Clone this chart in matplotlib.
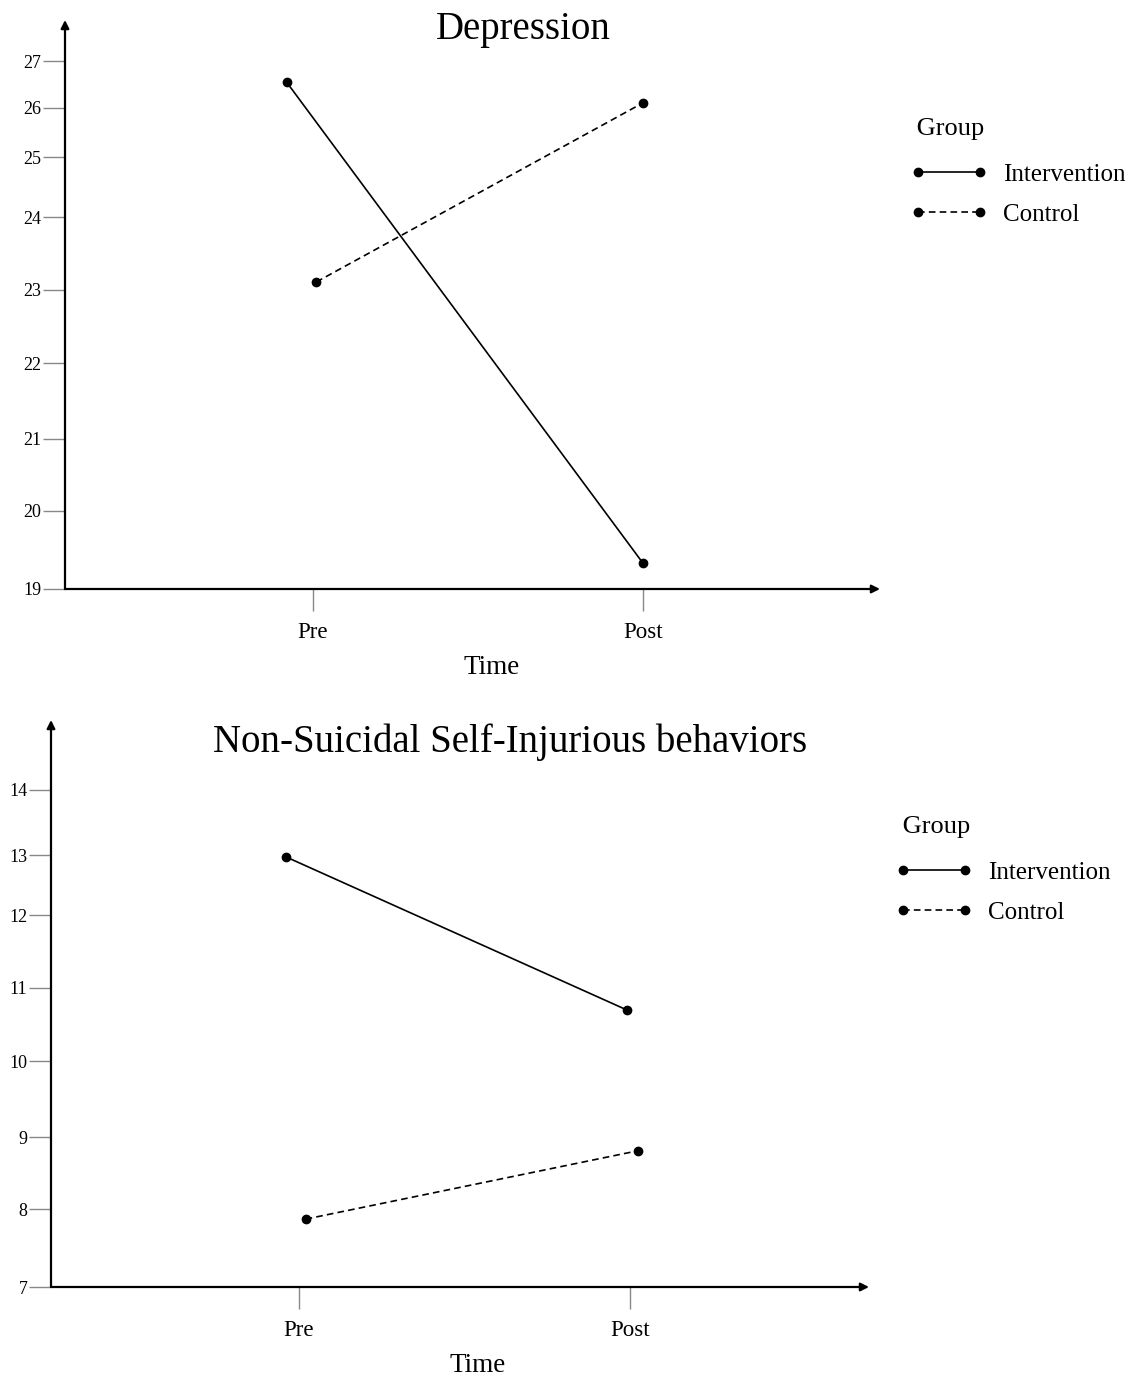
import numpy as np
import matplotlib
matplotlib.use("Agg")
import matplotlib.pyplot as plt

plt.rcParams['font.family'] = ['Liberation Serif', 'DejaVu Serif']

# Data
time_labels = ["Pre", "Post"]
groups = ["Intervention", "Control"]

# Depression
dep_ticks = [19, 20, 21, 22, 23, 24, 25, 26, 27]
dep_x_int = [0.92, 2.0]
dep_x_ctl = [1.01, 2.0]
dep_int = [26.55, 19.33]
dep_ctl = [23.11, 26.11]

# NSSI
nssi_ticks = [7, 8, 9, 10, 11, 12, 13, 14]
nssi_x_int = [0.96, 1.99]
nssi_x_ctl = [1.02, 2.025]
nssi_int = [12.97, 10.70]
nssi_ctl = [7.87, 8.81]

# uneven axis spacing as drawn in the original (relative heights of ticks)
dep_tick_pos = [0, 78, 150, 226, 299, 372, 432, 481, 528]
nssi_tick_pos = [0, 78, 150, 226, 299, 372, 432, 497]


def make_scale(ticks, pos):
    t = np.asarray(ticks, float)
    p = np.asarray(pos, float)

    def fwd(v):
        v = np.asarray(v, float)
        out = np.interp(v, t, p)
        lo = (p[1] - p[0]) / (t[1] - t[0])
        hi = (p[-1] - p[-2]) / (t[-1] - t[-2])
        out = np.where(v < t[0], p[0] + (v - t[0]) * lo, out)
        out = np.where(v > t[-1], p[-1] + (v - t[-1]) * hi, out)
        return out

    def inv(q):
        q = np.asarray(q, float)
        out = np.interp(q, p, t)
        lo = (t[1] - t[0]) / (p[1] - p[0])
        hi = (t[-1] - t[-2]) / (p[-1] - p[-2])
        out = np.where(q < p[0], t[0] + (q - p[0]) * lo, out)
        out = np.where(q > p[-1], t[-1] + (q - p[-1]) * hi, out)
        return out

    return fwd, inv


W, H = 1128, 1378
fig = plt.figure(figsize=(W / 100, H / 100), dpi=100)


def panel(rect, ticks, tick_pos, xi, yi, xc, yc, xlim, arrow_top,
          title, title_xy, time_xy, leg_xy):
    ax = fig.add_axes(rect)
    ax.set_yscale('function', functions=make_scale(ticks, tick_pos))
    ax.set_ylim(ticks[0], ticks[-1])
    ax.set_xlim(*xlim)

    ax.plot(xi, yi, color='black', lw=1.2, marker='o', ms=6,
            label=groups[0], clip_on=False)
    ax.plot(xc, yc, color='black', lw=1.2, ls=(0, (4, 2.5)), marker='o',
            ms=6, label=groups[1], clip_on=False)

    for s in ax.spines.values():
        s.set_visible(False)
    ax.annotate("", xy=(1, 0), xytext=(0, 0), xycoords='axes fraction',
                arrowprops=dict(arrowstyle='-|>', color='black', lw=1.6,
                                mutation_scale=12, shrinkA=0, shrinkB=0),
                annotation_clip=False)
    ax.annotate("", xy=(0, arrow_top), xytext=(0, 0),
                xycoords='axes fraction',
                arrowprops=dict(arrowstyle='-|>', color='black', lw=1.6,
                                mutation_scale=12, shrinkA=0, shrinkB=0),
                annotation_clip=False)

    ax.set_yticks(ticks)
    ax.set_yticklabels([str(t) for t in ticks])
    ax.set_xticks([1, 2])
    ax.set_xticklabels(time_labels)
    ax.tick_params(axis='y', length=16, width=1, color='#888888',
                   labelsize=13, pad=1)
    ax.tick_params(axis='x', length=16, width=1, color='#888888',
                   labelsize=16.5, pad=8)
    ax.yaxis.get_majorticklines()[0].set_color('black')

    fig.text(title_xy[0] / W, 1 - title_xy[1] / H, title, fontsize=28,
             ha='center', va='center')
    fig.text(time_xy[0] / W, 1 - time_xy[1] / H, "Time", fontsize=19.5,
             ha='center', va='center')

    leg = ax.legend(loc='upper left',
                    bbox_to_anchor=(leg_xy[0] / W, 1 - leg_xy[1] / H),
                    bbox_transform=fig.transFigure, frameon=False,
                    title=" Group", title_fontsize=19, fontsize=18,
                    numpoints=2, handlelength=3.08, handletextpad=0.62,
                    labelspacing=0.71, borderpad=0.62, borderaxespad=0,
                    alignment='left')
    # a bit more room between the title and the entries
    leg._legend_box.sep = leg._legend_box.sep + 4.3
    return ax


panel([65 / W, 1 - 589 / H, (880 - 65) / W, 528 / H],
      dep_ticks, dep_tick_pos, dep_x_int, dep_int, dep_x_ctl, dep_ctl,
      (0.2485, 2.718), (589 - 20) / 528,
      "Depression", (523, 30), (492, 668), (895, 102))

panel([51 / W, 1 - 1287 / H, (869 - 51) / W, 497 / H],
      nssi_ticks, nssi_tick_pos, nssi_x_int, nssi_int, nssi_x_ctl, nssi_ctl,
      (0.2508, 2.722), (1287 - 720) / 497,
      "Non-Suicidal Self-Injurious behaviors", (510, 742), (478, 1366),
      (880, 800))

fig.savefig("out.png", dpi=100)
